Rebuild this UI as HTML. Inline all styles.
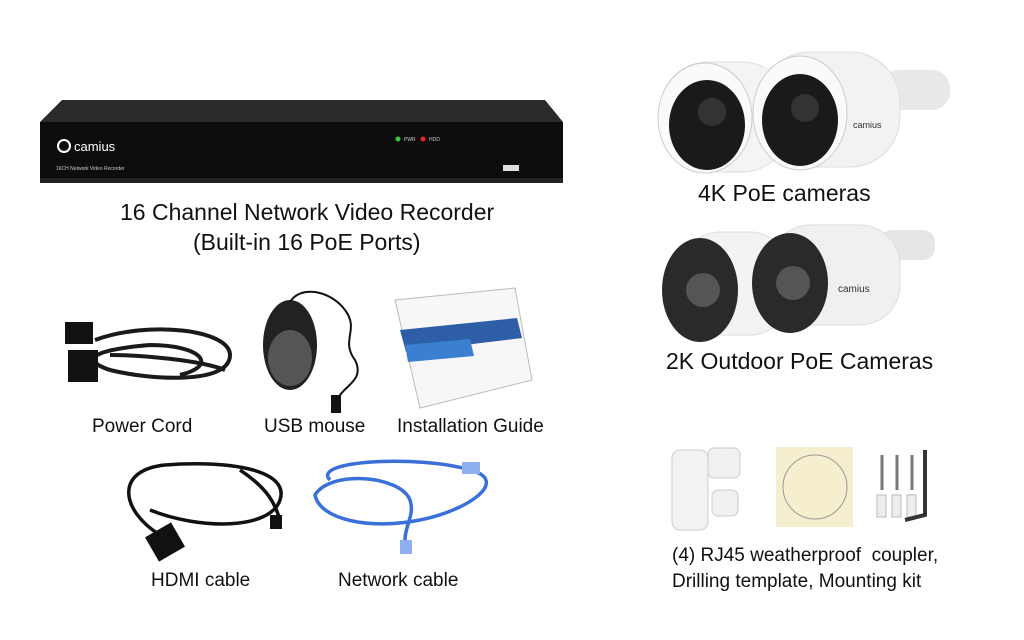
<!DOCTYPE html>
<html><head><meta charset="utf-8"><style>
body{margin:0;width:1024px;height:640px;background:#fff;position:relative;overflow:hidden;font-family:"Liberation Sans",Arial,sans-serif;color:#111}
.t{position:absolute;white-space:nowrap}
</style></head><body>
<svg width="1024" height="640" style="position:absolute;left:0;top:0">
<polygon points="62,100 545,100 563,122 40,122" fill="#2a2a2a"/>
<rect x="40" y="122" width="523" height="58" fill="#0d0d0d"/>
<rect x="40" y="178" width="523" height="5" fill="#222"/>
<circle cx="64" cy="146" r="6" fill="none" stroke="#fff" stroke-width="2"/>
<text x="74" y="151" fill="#fff" font-size="13" font-family="Liberation Sans">camius</text>
<text x="56" y="170" fill="#ccc" font-size="5" font-family="Liberation Sans">16CH Network Video Recorder</text>
<circle cx="398" cy="139" r="2.5" fill="#3c3"/><circle cx="423" cy="139" r="2.5" fill="#e22"/>
<text x="404" y="141" fill="#ccc" font-size="5">PWR</text><text x="429" y="141" fill="#ccc" font-size="5">HDD</text>
<rect x="503" y="165" width="16" height="6" fill="#ddd"/>
<g>
<rect x="880" y="70" width="70" height="40" rx="18" fill="#e8e8e8"/>
<rect x="760" y="52" width="140" height="115" rx="50" fill="#f2f2f2" stroke="#ddd"/>
<rect x="660" y="62" width="130" height="110" rx="48" fill="#f4f4f4" stroke="#ddd"/>
<ellipse cx="705" cy="118" rx="47" ry="55" fill="#fafafa" stroke="#ccc"/>
<ellipse cx="707" cy="125" rx="38" ry="45" fill="#1a1a1a"/>
<circle cx="712" cy="112" r="14" fill="#333"/>
<ellipse cx="800" cy="113" rx="47" ry="57" fill="#fafafa" stroke="#ccc"/>
<ellipse cx="800" cy="120" rx="38" ry="46" fill="#1a1a1a"/>
<circle cx="805" cy="108" r="14" fill="#333"/>
<text x="853" y="128" font-size="9" fill="#333">camius</text>
</g>
<g>
<rect x="880" y="230" width="55" height="30" rx="12" fill="#e6e6e6"/>
<rect x="770" y="225" width="130" height="100" rx="40" fill="#f0f0f0" stroke="#ddd"/>
<rect x="680" y="232" width="110" height="103" rx="40" fill="#f3f3f3" stroke="#ddd"/>
<ellipse cx="700" cy="290" rx="38" ry="52" fill="#2a2a2a"/>
<circle cx="703" cy="290" r="17" fill="#555"/>
<ellipse cx="790" cy="283" rx="38" ry="50" fill="#2a2a2a"/>
<circle cx="793" cy="283" r="17" fill="#555"/>
<text x="838" y="292" font-size="10" fill="#333">camius</text>
</g>
<g fill="none" stroke="#1a1a1a" stroke-width="4">
<path d="M95,340 C150,320 230,330 230,355 C230,385 150,380 110,370 C80,360 90,350 150,345 C200,345 220,365 180,375"/>
<path d="M110,355 C140,355 200,360 225,370"/>
</g>
<rect x="65" y="322" width="28" height="22" fill="#111"/>
<rect x="68" y="350" width="30" height="32" fill="#111"/>
<ellipse cx="290" cy="345" rx="27" ry="45" fill="#222"/>
<ellipse cx="290" cy="358" rx="22" ry="28" fill="#555"/>
<path d="M290,302 C300,285 330,290 345,310 C360,330 340,340 355,360 C365,380 345,385 338,398" fill="none" stroke="#111" stroke-width="2"/>
<rect x="331" y="395" width="10" height="18" fill="#111"/>
<polygon points="395,300 515,288 532,380 420,408" fill="#f7f7f7" stroke="#bbb"/>
<polygon points="400,330 517,318 522,338 406,352" fill="#2f5ea8"/>
<polygon points="405,345 470,339 474,356 408,362" fill="#3b7fd0"/>
<g fill="none" stroke="#111" stroke-width="3.5">
<path d="M160,535 C120,510 115,470 165,465 C230,460 290,470 280,500 C270,530 200,530 150,510"/>
<path d="M240,470 C270,490 275,505 280,520"/>
</g>
<rect x="150" y="528" width="30" height="28" fill="#111" transform="rotate(-30 165 542)"/>
<rect x="270" y="515" width="12" height="14" fill="#111"/>
<g fill="none" stroke="#3a70d8" stroke-width="3.5">
<path d="M330,480 C310,460 420,455 470,470 C510,480 470,510 420,520 C370,530 320,520 315,495 C330,470 400,475 410,500 C415,515 405,525 405,540"/>
</g>
<rect x="462" y="462" width="18" height="12" fill="#8fb0f0"/>
<rect x="400" y="540" width="12" height="14" fill="#8fb0f0"/>
<rect x="672" y="450" width="36" height="80" rx="8" fill="#f2f2f2" stroke="#ccc"/>
<rect x="708" y="448" width="32" height="30" rx="6" fill="#f0f0f0" stroke="#ccc"/>
<rect x="712" y="490" width="26" height="26" rx="6" fill="#f0f0f0" stroke="#ccc"/>
<rect x="776" y="447" width="77" height="80" fill="#f6efcf"/>
<circle cx="815" cy="487" r="32" fill="none" stroke="#999"/>
<g stroke="#777" stroke-width="3">
<line x1="882" y1="455" x2="882" y2="490"/><line x1="897" y1="455" x2="897" y2="490"/><line x1="912" y1="455" x2="912" y2="490"/>
</g>
<g fill="#eee" stroke="#bbb">
<rect x="877" y="495" width="9" height="22"/><rect x="892" y="495" width="9" height="22"/><rect x="907" y="495" width="9" height="22"/>
</g>
<path d="M925,450 L925,515 L905,520" fill="none" stroke="#333" stroke-width="4"/>
</svg>
<div class="t" style="left:120px;top:199px;font-size:23px">16 Channel Network Video Recorder</div>
<div class="t" style="left:193px;top:229px;font-size:23px">(Built-in 16 PoE Ports)</div>
<div class="t" style="left:698px;top:180px;font-size:23px">4K PoE cameras</div>
<div class="t" style="left:666px;top:348px;font-size:23px">2K Outdoor PoE Cameras</div>
<div class="t" style="left:92px;top:416px;font-size:19px">Power Cord</div>
<div class="t" style="left:264px;top:416px;font-size:19px">USB mouse</div>
<div class="t" style="left:397px;top:416px;font-size:19px">Installation Guide</div>
<div class="t" style="left:151px;top:570px;font-size:19px">HDMI cable</div>
<div class="t" style="left:338px;top:570px;font-size:19px">Network cable</div>
<div class="t" style="left:672px;top:545px;font-size:19px">(4) RJ45 weatherproof&nbsp; coupler,</div>
<div class="t" style="left:672px;top:571px;font-size:19px">Drilling template, Mounting kit</div>
</body></html>
